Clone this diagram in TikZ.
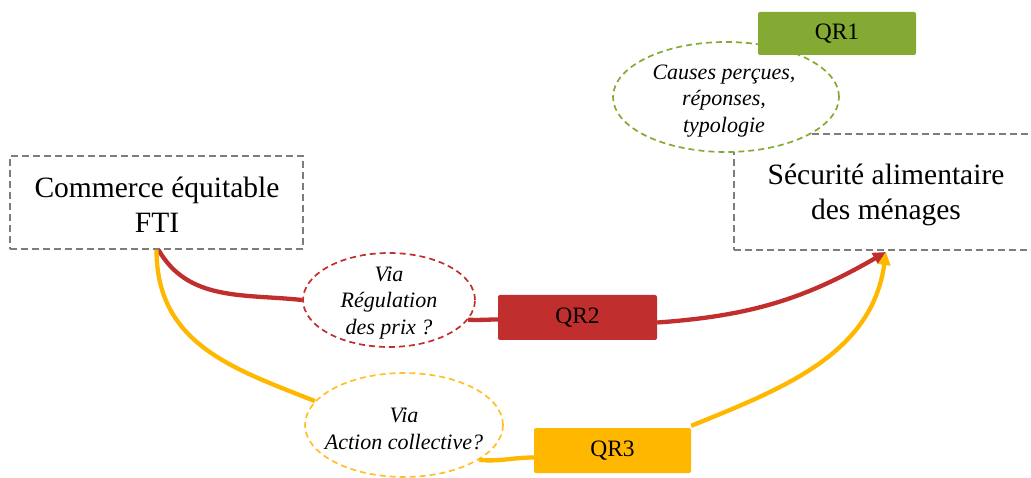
\documentclass[tikz,border=0pt]{standalone}
\usepackage{fontspec}
\setmainfont{Liberation Serif}
\usetikzlibrary{shapes.geometric,arrows.meta}
\definecolor{grn}{RGB}{132,170,51}
\definecolor{rd}{RGB}{193,46,46}
\definecolor{yl}{RGB}{255,183,0}
\definecolor{yldash}{RGB}{255,192,40}
\definecolor{gry}{RGB}{125,125,125}
\tikzset{
  mainbox/.style={draw=gry, line width=1.8pt, dash pattern=on 7pt off 4pt, inner sep=0pt},
  maintext/.style={align=center, font=\fontsize{29.5}{35}\selectfont},
  qrbox/.style={rounded corners=2pt, inner sep=0pt, font=\fontsize{23.5}{26}\selectfont},
  bubble/.style={ellipse, fill=white, line width=1.7pt, dash pattern=on 6pt off 4pt, inner sep=0pt},
  bubbletext/.style={inner sep=0pt, align=center, font=\itshape\fontsize{22}{26.5}\selectfont},
  conn/.style={line width=4.3pt},
  tip/.style={-{Triangle[length=13pt,width=12pt]}}
}
\begin{document}
\begin{tikzpicture}[x=1pt,y=-1pt]
\useasboundingbox (0,0) rectangle (1031,478);
% main boxes
\node[mainbox, minimum width=293pt, minimum height=93pt] (fti) at (156.5,202.5) {};
\node[maintext] (ftit) at (157,205) {Commerce équitable\\FTI};
\node[mainbox, minimum width=320pt, minimum height=116pt, anchor=north west] (sa) at (733,133) {};
\node[maintext] (sat) at (886,195) {Sécurité alimentaire\\des ménages};
\coordinate (tgt) at (886,252);
% green bubble and QR1
\node[bubble, draw=grn, minimum width=226pt, minimum height=110pt] (gb) at (726,97) {};
\node[bubbletext] (gbt) at (724,101) {Causes perçues,\\réponses,\\typologie};
\node[qrbox, fill=grn, minimum width=158pt, minimum height=43pt] (qr1) at (837,33.5) {QR1};
% red path
\node[bubble, draw=rd, minimum width=172pt, minimum height=94pt] (rb) at (389,300) {};
\node[bubbletext] (rbt) at (389,303) {Via\\Régulation\\des prix ?};
\node[qrbox, fill=rd, minimum width=159pt, minimum height=45pt] (qr2) at (577.5,317.5) {QR2};
% yellow path
\node[bubble, draw=yldash, minimum width=198pt, minimum height=104pt] (yb) at (404,425) {};
\node[bubbletext] (ybt) at (404,429) {Via\\Action collective?};
\node[qrbox, fill=yl, minimum width=157pt, minimum height=45pt] (qr3) at (612.5,450.5) {QR3};
% connectors
\draw[conn, rd] ([xshift=2pt]fti.south) to[out=-60,in=174] (rb.west);
\draw[conn, rd] (rb.-14) to[out=-3,in=180] ([yshift=-2pt]qr2.west);
\draw[conn, rd, tip] ([yshift=-5pt]qr2.east) to[out=4,in=-150] (tgt);
\draw[conn, yl] (fti.south) .. controls +(0,95) and +(-80,-32) .. (yb.165);
\draw[conn, yl] (yb.-25) to[out=-5,in=180] ([yshift=-7pt]qr3.west);
\draw[conn, yl, tip] ([yshift=2pt]qr3.north east) to[out=22,in=-98] (tgt);
\end{tikzpicture}
\end{document}
